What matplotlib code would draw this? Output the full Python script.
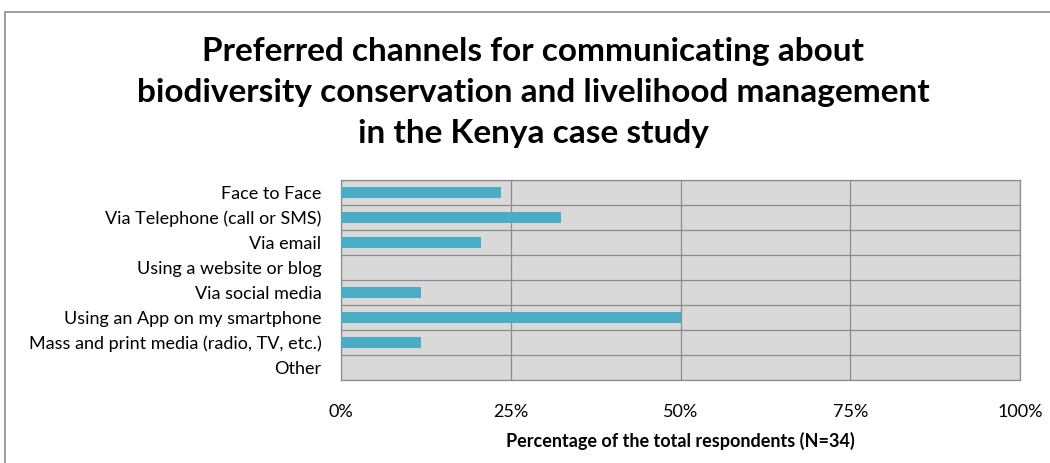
import matplotlib
matplotlib.use("Agg")
import matplotlib.pyplot as plt
from matplotlib.patches import Rectangle
from matplotlib.ticker import FuncFormatter
import numpy as np

channels = [
    "Face to Face",
    "Via Telephone (call or SMS)",
    "Via email",
    "Using a website or blog",
    "Via social media",
    "Using an App on my smartphone",
    "Mass and print media (radio, TV, etc.)",
    "Other",
]
# respondents choosing each channel, out of N=34
counts = [8, 11, 7, 0, 4, 17, 4, 0]
n_total = 34
share = [c / n_total * 100 for c in counts]

plt.rcParams["font.family"] = ["Lato", "DejaVu Sans"]

fig = plt.figure(figsize=(10.5, 4.63), dpi=100)
fig.patches.append(Rectangle((5 / 1050, -0.05), 1.1, 1 - 12 / 463 + 0.05,
                             transform=fig.transFigure, fill=False,
                             edgecolor="#8c8c8c", linewidth=1.2))

ax = fig.add_axes([341 / 1050, 1 - 380 / 463, 679 / 1050, 200 / 463])
ax.set_facecolor("#d9d9d9")

y = np.arange(len(channels))
ax.barh(y, share, height=0.42, color="#4bacc6", zorder=3)

ax.set_xlim(0, 100)
ax.set_ylim(len(channels) - 0.5, -0.5)
ax.set_xticks([0, 25, 50, 75, 100])
ax.xaxis.set_major_formatter(FuncFormatter(lambda v, p: f"{v:.0f}%"))
ax.set_yticks(y)
ax.set_yticklabels(channels)

# separators between categories and vertical grid
ax.set_yticks(np.arange(len(channels) + 1) - 0.5, minor=True)
ax.grid(axis="y", which="minor", color="#8c8c8c", linewidth=0.9, zorder=1)
ax.grid(axis="x", which="major", color="#8c8c8c", linewidth=0.9, zorder=1)

ax.tick_params(axis="both", which="both", length=0)
ax.tick_params(axis="y", labelsize=13, pad=14)
ax.tick_params(axis="x", labelsize=13, pad=17)
for s in ax.spines.values():
    s.set_color("#8c8c8c")
    s.set_linewidth(0.9)

ax.set_xlabel("Percentage of the total respondents (N=34)", fontsize=13,
              fontweight="bold", labelpad=9)

fig.text(0.508, 0.80,
         "Preferred channels for communicating about\n"
         "biodiversity conservation and livelihood management\n"
         "in the Kenya case study",
         ha="center", va="center", fontsize=24, fontweight="bold",
         linespacing=1.5)

fig.savefig("out.png", dpi=100)
